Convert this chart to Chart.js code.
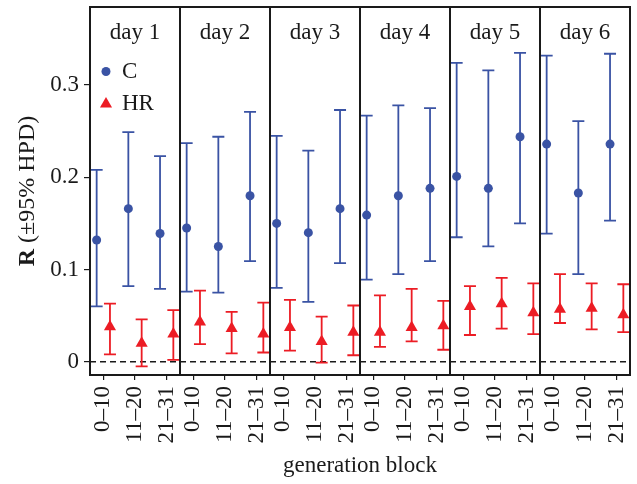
<!DOCTYPE html>
<html><head><meta charset="utf-8">
<script src="https://cdn.jsdelivr.net/npm/chart.js@4"></script>
<style>html,body{margin:0;padding:0;background:#fff;} canvas{display:block;}</style>
</head><body>
<canvas id="c" width="637" height="484"></canvas>
<script>
// ---- data ----
const days = ['day 1','day 2','day 3','day 4','day 5','day 6'];
const blocks = ['0–10','11–20','21–31'];
const yTickValues = [0, 0.1, 0.2, 0.3];
const yTickLabels = ['0', '0.1', '0.2', '0.3'];
const seriesNames = ['C', 'HR'];

// 18 values each: day1 (0–10, 11–20, 21–31), day2 ..., day6
const C_est = [0.132,0.166,0.139, 0.145,0.125,0.180, 0.150,0.140,0.166, 0.159,0.180,0.188, 0.201,0.188,0.244, 0.236,0.183,0.236];
const C_lo  = [0.060,0.082,0.079, 0.076,0.075,0.109, 0.080,0.065,0.107, 0.089,0.095,0.109, 0.135,0.125,0.150, 0.139,0.095,0.153];
const C_hi  = [0.208,0.249,0.223, 0.237,0.244,0.271, 0.245,0.229,0.273, 0.267,0.278,0.275, 0.324,0.316,0.335, 0.332,0.261,0.334];
const HR_est = [0.038,0.020,0.030, 0.043,0.036,0.030, 0.037,0.022,0.032, 0.032,0.037,0.039, 0.060,0.063,0.053, 0.057,0.058,0.051];
const HR_lo  = [0.008,-0.005,0.002, 0.019,0.009,0.010, 0.012,-0.001,0.007, 0.016,0.022,0.013, 0.029,0.036,0.030, 0.042,0.035,0.032];
const HR_hi  = [0.063,0.046,0.056, 0.077,0.054,0.064, 0.067,0.049,0.061, 0.072,0.079,0.066, 0.082,0.091,0.085, 0.095,0.085,0.084];

// ---- layout helpers ----
const PANEL_W = 2.84, CAT_OFF = 0.42, DODGE = 0.21;
const BLUE = '#3A53A4', RED = '#EC1C24', INK = '#1a1a1a';
const FONT = '"Liberation Serif", "DejaVu Serif", serif';
function xPos(i, dodge) { const d = Math.floor(i / blocks.length), k = i % blocks.length; return d * PANEL_W + CAT_OFF + k + dodge; }
const nObs = days.length * blocks.length;
const xTickPositions = Array.from({length: nObs}, (_, i) => xPos(i, 0));

const mk = (est, lo, hi, dodge) => est.map((v, i) => ({x: xPos(i, dodge), y: v, lo: lo[i], hi: hi[i]}));

const decor = {
  id: 'decor',
  beforeDatasetsDraw(chart) {
    const {ctx, chartArea: a, scales: {x, y}} = chart;
    ctx.save();
    // dashed zero line
    ctx.strokeStyle = INK; ctx.lineWidth = 1.6; ctx.setLineDash([6, 4]);
    const y0 = y.getPixelForValue(0);
    ctx.beginPath(); ctx.moveTo(a.left, y0); ctx.lineTo(a.right, y0); ctx.stroke();
    ctx.setLineDash([]);
    // error bars
    chart.data.datasets.forEach((ds, di) => {
      const meta = chart.getDatasetMeta(di);
      ctx.strokeStyle = ds.backgroundColor; ctx.lineWidth = 1.8;
      ds.data.forEach((p, i) => {
        const px = meta.data[i].x, yl = y.getPixelForValue(p.lo), yh = y.getPixelForValue(p.hi);
        ctx.beginPath();
        ctx.moveTo(px, yl); ctx.lineTo(px, yh);
        ctx.moveTo(px - 6, yl); ctx.lineTo(px + 6, yl);
        ctx.moveTo(px - 6, yh); ctx.lineTo(px + 6, yh);
        ctx.stroke();
      });
    });
    ctx.restore();
  },
  afterDatasetsDraw(chart) {
    const {ctx, chartArea: a, scales: {x, y}} = chart;
    ctx.save();
    // panel borders
    ctx.strokeStyle = INK; ctx.lineWidth = 2;
    days.forEach((d, k) => {
      const l = x.getPixelForValue(k * PANEL_W), r = x.getPixelForValue((k + 1) * PANEL_W);
      ctx.strokeRect(l, a.top, r - l, a.bottom - a.top);
      // strip labels
      ctx.fillStyle = INK; ctx.font = '23px ' + FONT; ctx.textAlign = 'center'; ctx.textBaseline = 'middle';
      ctx.fillText(d, (l + r) / 2, 33);
    });
    // legend
    const lx = x.getPixelForValue(0) + 16;
    ctx.fillStyle = BLUE; ctx.beginPath(); ctx.arc(lx, 71.5, 4.5, 0, Math.PI * 2); ctx.fill();
    ctx.fillStyle = RED; ctx.beginPath();
    const r = 7, ty = 104;
    ctx.moveTo(lx, ty - r); ctx.lineTo(lx + r * Math.sin(2 * Math.PI / 3), ty + r / 2); ctx.lineTo(lx - r * Math.sin(2 * Math.PI / 3), ty + r / 2); ctx.closePath(); ctx.fill();
    ctx.fillStyle = INK; ctx.font = '23px ' + FONT; ctx.textAlign = 'left'; ctx.textBaseline = 'middle';
    ctx.fillText(seriesNames[0], lx + 16, 72);
    ctx.fillText(seriesNames[1], lx + 16, 104);
    // y axis title with bold R
    ctx.translate(28, (a.top + a.bottom) / 2);
    ctx.rotate(-Math.PI / 2);
    ctx.textBaseline = 'middle';
    const boldPart = 'R', rest = ' (±95% HPD)';
    ctx.font = 'bold 24px ' + FONT; const wb = ctx.measureText(boldPart).width;
    ctx.font = '24px ' + FONT; const wr = ctx.measureText(rest).width;
    const start = -(wb + wr) / 2;
    ctx.textAlign = 'left';
    ctx.font = 'bold 24px ' + FONT; ctx.fillText(boldPart, start, 0);
    ctx.font = '24px ' + FONT; ctx.fillText(rest, start + wb, 0);
    ctx.restore();
  }
};

new Chart(document.getElementById('c'), {
  type: 'scatter',
  data: {
    datasets: [
      {label: seriesNames[0], data: mk(C_est, C_lo, C_hi, -DODGE), backgroundColor: BLUE, borderColor: BLUE, borderWidth: 0, pointStyle: 'circle', pointRadius: 4.5},
      {label: seriesNames[1], data: mk(HR_est, HR_lo, HR_hi, DODGE), backgroundColor: RED, borderColor: RED, borderWidth: 0, pointStyle: 'triangle', pointRadius: 7}
    ]
  },
  options: {
    responsive: false, animation: false, events: [],
    layout: {padding: {left: 0, right: 7, top: 7, bottom: 0}},
    plugins: {legend: {display: false}, tooltip: {enabled: false}},
    scales: {
      x: {
        type: 'linear', min: 0, max: PANEL_W * days.length,
        afterBuildTicks: ax => { ax.ticks = xTickPositions.map(v => ({value: v})); },
        afterFit: ax => { ax.height = 109; ax.paddingLeft = 0; ax.paddingRight = 0; },
        ticks: {autoSkip: false, minRotation: 90, maxRotation: 90, padding: 6, color: INK,
                font: {family: FONT, size: 23},
                callback: (v, i) => blocks[i % blocks.length]},
        grid: {drawOnChartArea: false, drawTicks: true, tickLength: 5, color: INK, lineWidth: 1.2},
        border: {display: false},
        title: {display: true, text: 'generation block', color: INK, font: {family: FONT, size: 23}, padding: {top: 0, bottom: 4}}
      },
      y: {
        min: -0.0144, max: 0.3847,
        afterBuildTicks: ax => { ax.ticks = yTickValues.map(v => ({value: v})); },
        afterFit: ax => { ax.width = 90; ax.paddingTop = 0; ax.paddingBottom = 0; },
        ticks: {padding: 5, color: INK, font: {family: FONT, size: 23},
                callback: (v, i) => yTickLabels[i]},
        grid: {drawOnChartArea: false, drawTicks: true, tickLength: 6, color: INK, lineWidth: 1.2},
        border: {display: false}
      }
    }
  },
  plugins: [decor]
});
</script>
</body></html>
